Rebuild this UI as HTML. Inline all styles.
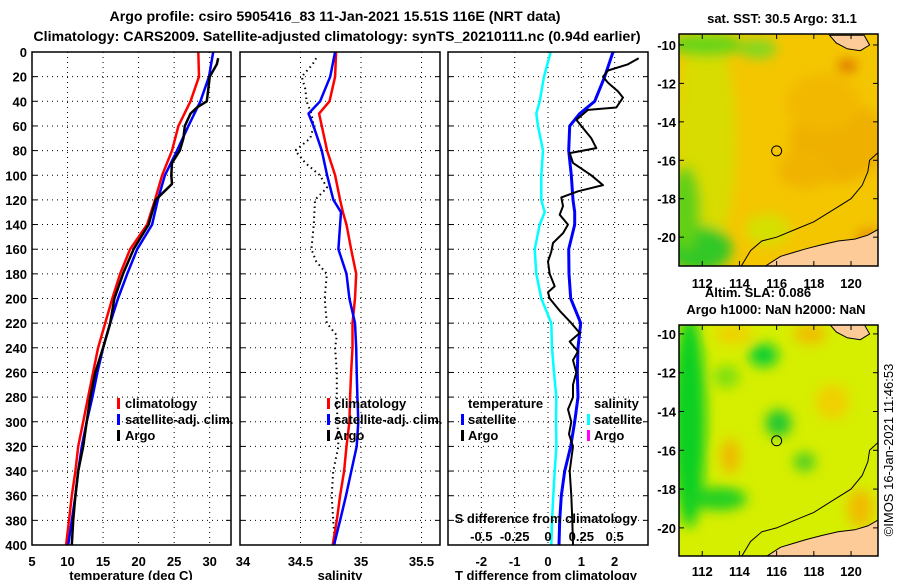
<!DOCTYPE html>
<html><head><meta charset="utf-8"><style>
html,body{margin:0;padding:0;background:#fff}
svg{display:block}
text{font-family:"Liberation Sans",Arial,sans-serif;font-weight:bold;fill:#000}
</style></head><body>
<svg id="fig" width="900" height="580" viewBox="0 0 900 580" xmlns="http://www.w3.org/2000/svg">
<defs>
<filter id="blur6" x="-50%" y="-50%" width="200%" height="200%"><feGaussianBlur stdDeviation="6"/></filter>
<clipPath id="clipTop"><rect x="679" y="34" width="199" height="232"/></clipPath>
<clipPath id="clipBot"><rect x="679" y="325" width="199" height="231"/></clipPath>
</defs>
<text x="335" y="21" font-size="14.2" text-anchor="middle">Argo profile: csiro 5905416_83 11-Jan-2021 15.51S 116E (NRT data)</text>
<text x="337" y="41" font-size="14.2" text-anchor="middle">Climatology: CARS2009. Satellite-adjusted climatology: synTS_20210111.nc (0.94d earlier)</text>
<g id="g"></g>
<text transform="translate(893,450) rotate(-90)" font-size="13" style="font-weight:normal" text-anchor="middle">©IMOS 16-Jan-2021 11:46:53</text>
</svg>
<script>
// ---------- data ----------
const depthStd = [0,20,40,60,80,100,120,140,160,180,200,220,240,260,280,300,320,340,360,380,400];
const tempClim = [28.4,28.5,27.3,25.6,24.7,23.3,22.3,21.2,18.8,17.4,16.3,15.3,14.3,13.6,12.9,12.2,11.5,11.1,10.6,10.2,9.8];
const tempSat = [30.5,29.9,28.7,27.0,25.4,23.7,22.7,21.9,19.8,18.4,17.1,16.0,15.0,14.2,13.5,12.7,12.0,11.5,11.1,10.6,10.1];
const depthArgoT = [5,10,20,30,40,45,50,60,70,80,90,100,107,111,120,140,160,180,200,220,240,260,280,300,320,340,360,380,400];
const tempArgo = [31.2,31.0,30.0,29.8,29.6,28.2,27.3,26.5,26.3,25.8,24.7,24.6,24.7,24.0,22.4,21.4,19.3,17.8,16.6,16.0,15.0,13.9,13.2,12.7,12.2,11.5,11.1,10.8,10.6];
const depthSal = [0,20,40,50,60,80,100,120,130,140,160,180,200,220,240,260,280,300,320,340,360,380,400];
const salClim = [34.794,34.786,34.74,34.654,34.676,34.72,34.786,34.827,34.85,34.88,34.918,34.96,34.95,34.93,34.93,34.918,34.91,34.904,34.88,34.86,34.827,34.8,34.766];
const salSat = [34.786,34.745,34.662,34.566,34.607,34.676,34.72,34.772,34.835,34.827,34.813,34.88,34.904,34.95,34.96,34.964,34.97,34.978,34.964,34.92,34.876,34.827,34.777];
const depthArgoS = [5,10,20,30,40,50,60,70,80,90,100,110,120,140,160,170,180,200,220,230,240,260,280,300,320,340,360,380,400];
const salArgo = [34.63,34.6,34.51,34.54,34.55,34.59,34.61,34.58,34.456,34.54,34.66,34.72,34.62,34.61,34.59,34.63,34.717,34.70,34.717,34.8,34.786,34.8,34.8,34.805,34.813,34.77,34.758,34.77,34.786];
const depthDiffS = [0,20,40,50,60,80,100,120,130,140,160,180,200,220,240,260,280,300,320,340,360,380,400];
const sDiffSat = [0.02,-0.03,-0.0625,-0.0875,-0.075,-0.0375,-0.05,-0.05,-0.025,-0.0625,-0.1,-0.0875,-0.05,0.025,0.03,0.045,0.0625,0.06,0.063,0.05,0.04,0.03,0.025];
const tDiffSat = [1.95,1.7,1.4,0.95,0.65,0.62,0.7,0.75,0.8,0.8,0.62,0.63,0.68,0.98,0.9,0.88,0.9,0.8,0.68,0.5,0.4,0.35,0.33];
const depthArgoD = [5,10,15,20,25,32,37,45,47,55,70,78,82,90,100,108,113,118,125,132,140,147,155,162,170,180,190,195,200,210,220,228,235,243,250,260,270,280,290,300,310,320,340,360,380,400];
const tDiffArgo = [2.72,2.4,1.8,1.65,1.8,2.1,2.25,2.05,1.2,0.85,1.3,1.45,0.65,0.75,1.3,1.65,0.9,0.4,0.45,0.35,0.6,0.45,0.15,0.1,0.0,0.05,0.2,0.0,0.05,0.35,0.7,0.95,0.65,0.9,0.75,0.85,0.75,0.75,0.6,0.7,0.63,0.75,0.65,0.7,0.73,0.75];
const depthTicks = [0,20,40,60,80,100,120,140,160,180,200,220,240,260,280,300,320,340,360,380,400];
const tempTicks = [5,10,15,20,25,30];
const salTicks = [34,34.5,35,35.5];
const tDiffTicks = [-2,-1,0,1,2];
const sDiffTicks = [-0.5,-0.25,0,0.25,0.5];
const sDiffLabels = ["-0.5","-0.25","0","0.25","0.5"];
const lonTicks = [112,114,116,118,120];
const latTicks = [-10,-12,-14,-16,-18,-20];
const argoLon = 116.0, argoLat = -15.51;

// ---------- helpers ----------
const NS = "http://www.w3.org/2000/svg";
const G = document.getElementById('g');
function mk(tag, attrs, parent){ const e=document.createElementNS(NS,tag); for(const k in attrs) e.setAttribute(k,attrs[k]); (parent||G).appendChild(e); return e; }
const TOP=52, BOT=545;
const yD = d => TOP + d*(BOT-TOP)/400;
const P1={x0:32,x1:231,min:5,max:33};
const P2={x0:240,x1:440,min:34,max:35.6528};
const P3={x0:448,x1:648,min:-3.0,max:3.0};
const sx = (p,v)=> p.x0 + (v-p.min)/(p.max-p.min)*(p.x1-p.x0);
const sxS = v => sx(P3, v*4);

function frame(p,name){
  const fr = mk('rect',{x:p.x0,y:TOP,width:p.x1-p.x0,height:BOT-TOP,fill:'#fff',stroke:'none'});
  
  
  depthTicks.forEach(d=>{ if(d>0&&d<400){
    const l=mk('line',{x1:p.x0,x2:p.x1,y1:yD(d),y2:yD(d),stroke:'#000','stroke-width':1,'stroke-dasharray':'1,4'});
    
    
    mk('line',{x1:p.x0,x2:p.x0+5,y1:yD(d),y2:yD(d),stroke:'#000'});
    mk('line',{x1:p.x1-5,x2:p.x1,y1:yD(d),y2:yD(d),stroke:'#000'});
  }});
}
function border(p,name){
  const b=mk('rect',{x:p.x0,y:TOP,width:p.x1-p.x0,height:BOT-TOP,fill:'none',stroke:'#000','stroke-width':1.5});
  
  
}
function vgrid(x){ mk('line',{x1:x,x2:x,y1:TOP,y2:BOT,stroke:'#000','stroke-width':1,'stroke-dasharray':'1,4'}); }
function curve(xs, ds, fx, color, w, dash, name){
  const pts = xs.map((v,i)=> fx(v).toFixed(1)+','+yD(ds[i]).toFixed(1)).join(' ');
  const a={points:pts,fill:'none',stroke:color,'stroke-width':w,'stroke-linejoin':'round'};
  if(dash) a['stroke-dasharray']=dash;
  const e=mk('polyline',a);
  
  
}
function txt(x,y,s,size,anchor,name){
  const t=mk('text',{x:x,y:y,'font-size':size||13,'text-anchor':anchor||'start'}); t.textContent=s;
  
  
  return t;
}
function legMark(x,y,color,name){
  const m=mk('rect',{x:x,y:y-10,width:3,height:11,fill:color});
  
  
}

// ---------- panel 1 ----------
frame(P1,'temperature');
tempTicks.forEach(t=>{ if(t>5) vgrid(sx(P1,t)); });
curve(tempClim, depthStd, v=>sx(P1,v), '#ff0000', 2.5, null, 'temperature-climatology-line');
curve(tempSat, depthStd, v=>sx(P1,v), '#0000ff', 2.5, null, 'temperature-satellite-line');
curve(tempArgo, depthArgoT, v=>sx(P1,v), '#000000', 2.5, null, 'temperature-argo-line');
border(P1,'temperature');
depthTicks.forEach(d=> txt(27, yD(d)+5, String(d), 13, 'end', 'depth-tick-label'));
tempTicks.forEach(t=> txt(sx(P1,t), 566, String(t), 13, 'middle', 'temperature-tick-label'));
txt(131, 580, 'temperature (deg C)', 13, 'middle', 'temperature-axis-title');
legMark(117,408,'#ff0000','legend-climatology-marker'); txt(125,408,'climatology',13,'start','legend-climatology');
legMark(117,424,'#0000ff','legend-satellite-marker'); txt(125,424,'satellite-adj. clim.',13,'start','legend-satellite-adj');
legMark(117,440,'#000000','legend-argo-marker'); txt(125,440,'Argo',13,'start','legend-argo');

// ---------- panel 2 ----------
frame(P2,'salinity');
salTicks.forEach(t=>{ if(t>34) vgrid(sx(P2,t)); });
curve(salArgo, depthArgoS, v=>sx(P2,v), '#000', 2, '1.5,3.5', 'salinity-argo-line');
curve(salClim, depthSal, v=>sx(P2,v), '#ff0000', 2.5, null, 'salinity-climatology-line');
curve(salSat, depthSal, v=>sx(P2,v), '#0000ff', 2.5, null, 'salinity-satellite-line');
border(P2,'salinity');
salTicks.forEach(t=> txt(sx(P2,t)+(t===34?3:0), 566, String(t), 13, 'middle', 'salinity-tick-label'));
txt(340, 580, 'salinity', 13, 'middle', 'salinity-axis-title');
legMark(327,408,'#ff0000','legend2-climatology-marker'); txt(334,408,'climatology',13,'start','legend2-climatology');
legMark(327,424,'#0000ff','legend2-satellite-marker'); txt(334,424,'satellite-adj. clim.',13,'start','legend2-satellite-adj');
legMark(327,440,'#000000','legend2-argo-marker'); txt(334,440,'Argo',13,'start','legend2-argo');

// ---------- panel 3 ----------
frame(P3,'difference');
sDiffTicks.forEach(t=> vgrid(sxS(t)));
curve(sDiffSat, depthDiffS, sxS, '#00ffff', 2.5, null, 'salinity-diff-satellite-line');
curve(tDiffSat, depthDiffS, v=>sx(P3,v), '#0000ff', 3, null, 'temperature-diff-satellite-line');
curve(tDiffArgo, depthArgoD, v=>sx(P3,v), '#000000', 2, null, 'temperature-diff-argo-line');
border(P3,'difference');
tDiffTicks.forEach(t=> txt(sx(P3,t), 566, String(t), 13, 'middle', 'tdiff-tick-label'));
sDiffTicks.forEach((t,i)=> txt(sxS(t), 541, sDiffLabels[i], 13, 'middle', 'sdiff-tick-label'));
txt(546, 523, 'S difference from climatology', 13, 'middle', 'sdiff-axis-title');
txt(546, 580, 'T difference from climatology', 13, 'middle', 'tdiff-axis-title');
txt(468,408,'temperature',13,'start','legend3-temperature-heading');
legMark(461,424,'#0000ff','legend3-t-satellite-marker'); txt(468,424,'satellite',13,'start','legend3-t-satellite');
legMark(461,440,'#000000','legend3-t-argo-marker'); txt(468,440,'Argo',13,'start','legend3-t-argo');
txt(594,408,'salinity',13,'start','legend3-salinity-heading');
legMark(587,424,'#00ffff','legend3-s-satellite-marker'); txt(594,424,'satellite',13,'start','legend3-s-satellite');
legMark(587,440,'#ff00ff','legend3-s-argo-marker'); txt(594,440,'Argo',13,'start','legend3-s-argo');

// ---------- maps ----------
const LON0=110.75, LON1=121.45;
function mapAxes(M){
  const X = lon => M.x0 + (lon-LON0)/(LON1-LON0)*(M.x1-M.x0);
  const Y = lat => M.y0 + (M.lat0-lat)/(M.lat0-M.lat1)*(M.y1-M.y0);
  return {X,Y};
}
const blobsTop = [[112.2,-15,1.6,6,'#d8dc00'],[119.3,-15,2.6,2.2,'#efb000'],[118.5,-13,2,1.5,'#f2b800'],[117.5,-16.5,1.5,1,'#f0b400'],[111.8,-20.6,1.8,1.2,'#30c828'],[111.1,-18.5,0.8,2.2,'#60d018'],[112.2,-10,2,0.6,'#68d418'],[115,-10.2,1,0.5,'#80d820'],[121,-20.3,0.8,0.8,'#e89800'],[119.8,-11.1,0.5,0.3,'#d86000'],[115.5,-19.6,1.2,0.8,'#d4e000']];
const blobsBot = [[111.3,-14.5,0.9,5.5,'#10d020'],[112.9,-18.5,1.5,0.6,'#20d020'],[115.3,-11.1,0.8,0.6,'#10d030'],[116.1,-14.6,0.7,0.7,'#20c830'],[117.5,-16.6,0.6,0.5,'#50d020'],[113.5,-16.3,0.5,0.9,'#f0b800'],[117.8,-10,0.9,0.5,'#f0bc00'],[120.5,-19,0.7,1,'#f0bc00'],[119,-13.5,0.9,0.9,'#f0d000'],[113.3,-12.2,0.7,0.6,'#80e010'],[113.7,-10,1,0.5,'#f0d000']];
const landBR = [[115.4,-21.5],[116.2,-21.0],[116.9,-20.8],[117.6,-20.6],[118.4,-20.4],[119.3,-20.2],[120.2,-20.1],[120.9,-19.9],[121.45,-19.6],[121.45,-21.5]];
const landTR = [[118.85,-9.5],[119.2,-9.9],[119.8,-10.2],[120.5,-10.3],[121.0,-10.0],[120.7,-9.5]];
const isobath = [[114.1,-21.5],[114.6,-20.7],[115.2,-20.2],[116.0,-20.0],[117.0,-19.6],[118.0,-19.2],[119.0,-18.6],[120.0,-18.0],[120.6,-17.3],[120.9,-16.6],[121.0,-16.0],[121.45,-15.6]];

function drawMap(M, base, blobs, clip, name, lonY){
  const {X,Y}=mapAxes(M);
  const g=mk('g',{'clip-path':'url(#'+clip+')'});
  
  
  mk('rect',{x:M.x0,y:M.y0,width:M.x1-M.x0,height:M.y1-M.y0,fill:base},g);
  const bg=mk('g',{filter:'url(#blur6)'},g);
  blobs.forEach(b=>{
    const e=mk('ellipse',{cx:X(b[0]),cy:Y(b[1]),rx:Math.abs(X(b[0]+b[2])-X(b[0])),ry:Math.abs(Y(b[1]-b[3])-Y(b[1])),fill:b[4]},bg);
    
    
  });
  const poly = arr => arr.map(p=>X(p[0]).toFixed(1)+','+Y(p[1]).toFixed(1)).join(' ');
  const l1=mk('polygon',{points:poly(landBR),fill:'#fdcb98',stroke:'#000','stroke-width':1},g);
  
  
  const l2=mk('polygon',{points:poly(landTR),fill:'#fdcb98',stroke:'#000','stroke-width':1},g);
  
  
  const c=mk('polyline',{points:poly(isobath),fill:'none',stroke:'#000','stroke-width':1},g);
  
  
  const m=mk('circle',{cx:X(argoLon),cy:Y(argoLat),r:5,fill:'none',stroke:'#000','stroke-width':1});
  
  
  const fr=mk('rect',{x:M.x0,y:M.y0,width:M.x1-M.x0,height:M.y1-M.y0,fill:'none',stroke:'#000','stroke-width':1.5});
  
  
  lonTicks.forEach(lon=>{
    mk('line',{x1:X(lon),x2:X(lon),y1:M.y0,y2:M.y0+5,stroke:'#000'});
    mk('line',{x1:X(lon),x2:X(lon),y1:M.y1-5,y2:M.y1,stroke:'#000'});
    txt(X(lon), lonY, String(lon), 13, 'middle', 'longitude-tick-label');
  });
  latTicks.forEach(lat=>{
    mk('line',{x1:M.x0,x2:M.x0+5,y1:Y(lat),y2:Y(lat),stroke:'#000'});
    mk('line',{x1:M.x1-5,x2:M.x1,y1:Y(lat),y2:Y(lat),stroke:'#000'});
    txt(M.x0-3, Y(lat)+5, String(lat), 13, 'end', 'latitude-tick-label');
  });
}
drawMap({x0:679,x1:878,y0:34,y1:266,lat0:-9.43,lat1:-21.5}, '#f4c600', blobsTop, 'clipTop', 'sst-map', 288);
drawMap({x0:679,x1:878,y0:325,y1:556,lat0:-9.54,lat1:-21.45}, '#d6ee00', blobsBot, 'clipBot', 'sla-map', 576);
txt(782, 23, 'sat. SST: 30.5 Argo: 31.1', 13, 'middle', 'sst-map-title');
txt(758, 297, 'Altim. SLA: 0.086', 13, 'middle', 'sla-label');
txt(776, 314, 'Argo h1000: NaN h2000: NaN', 13, 'middle', 'sla-map-title');
</script>
</body></html>
